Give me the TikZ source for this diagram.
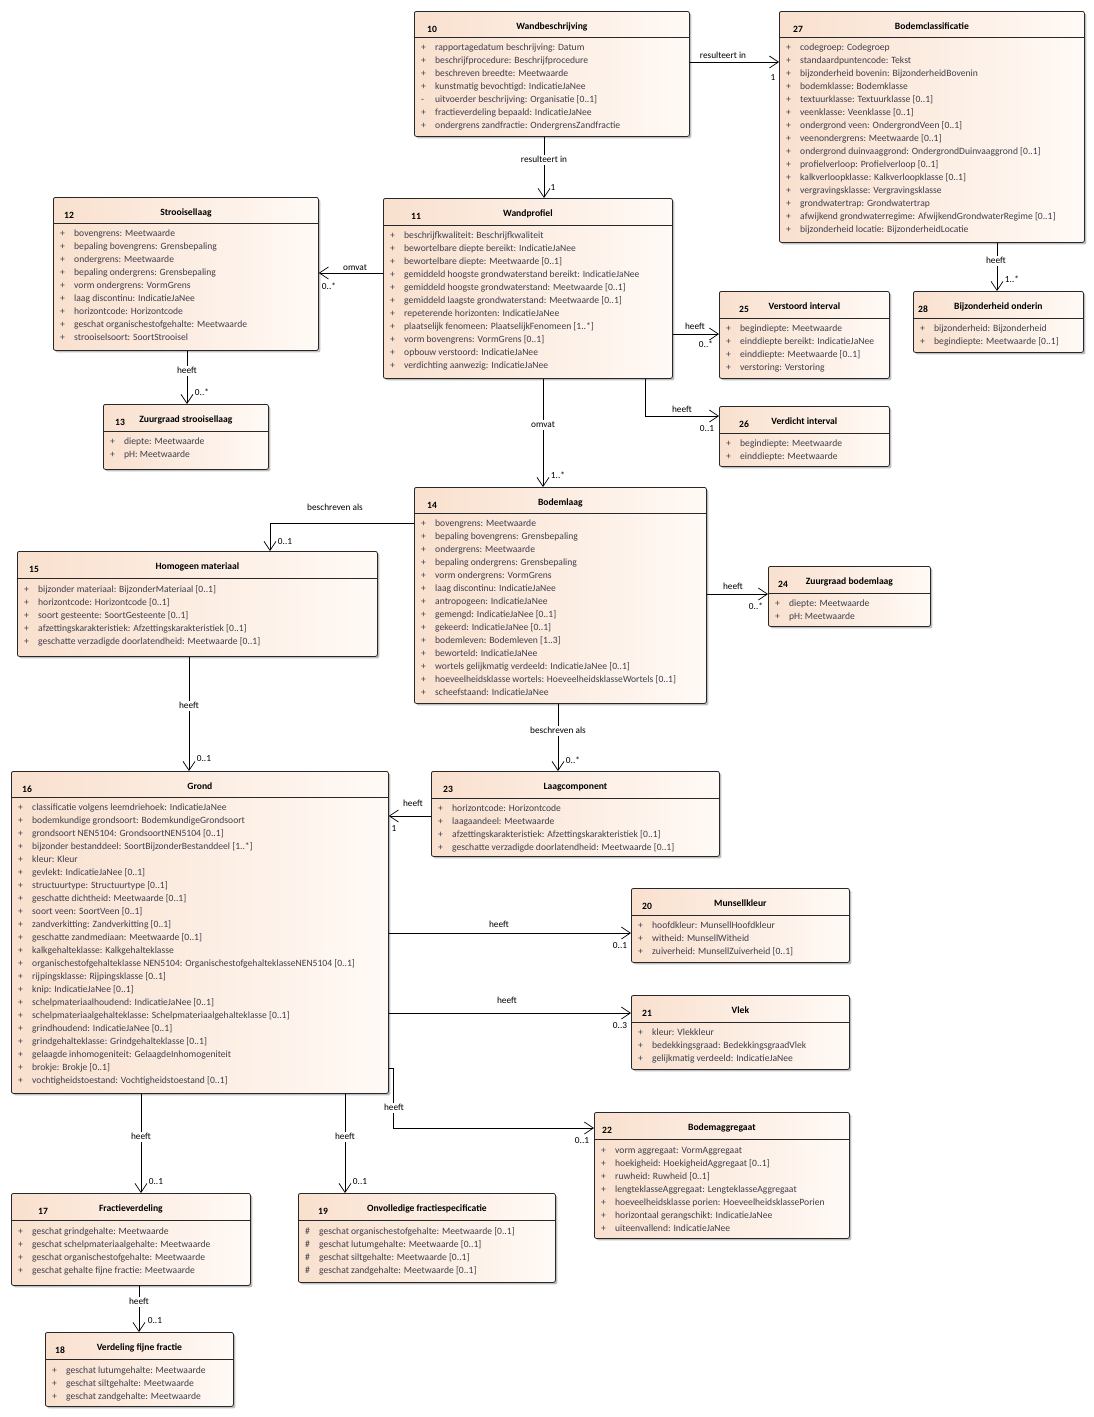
\documentclass[tikz,border=0pt]{standalone}
\usepackage{fontspec}
\setmainfont{Carlito}
\usetikzlibrary{arrows.meta,shadows}
\definecolor{boxL}{RGB}{249,224,206}
\definecolor{boxR}{RGB}{255,250,246}
\definecolor{attrc}{RGB}{62,62,74}
\definecolor{edgec}{RGB}{40,40,40}
\tikzset{
 cls/.style={draw=edgec, line width=0.8pt, rounded corners=2pt, left color=boxL, right color=boxR,
   drop shadow={shadow xshift=2pt, shadow yshift=-2pt, opacity=0.25, fill=black}, anchor=north west, inner sep=0pt},
 attr/.style={font=\fontsize{9.6}{11}\selectfont, text=attrc, anchor=west, inner sep=0pt, text height=6.5pt, text depth=2pt},
 ttl/.style={font=\fontsize{9.6}{11}\selectfont\bfseries, inner sep=0pt, text height=6.5pt, text depth=2pt},
 lbl/.style={font=\fontsize{9.3}{11}\selectfont, inner sep=1pt, text height=6.5pt, text depth=2pt},
 lblw/.style={lbl, fill=white},
 conn/.style={draw=black, line width=0.7pt, -{Straight Barb[length=9pt,width=12pt,line width=0.7pt]}},
 divline/.style={draw=edgec, line width=0.8pt},
}
% name x y w h
\newcommand\clsbox[5]{\node[cls, minimum width=#4pt, minimum height=#5pt] (#1) at (#2,#3) {};}
% name num numdx title dividerY
\newcommand\clshead[5]{%
 \node[ttl, anchor=west] (#1-num) at ([xshift=#3pt, yshift=-19.5pt]#1.north west) {#2};
 \node[ttl] (#1-title) at ([yshift=-16.5pt]#1.north) {#4};
 \draw[divline] (#1.west |- 0,#5) -- (#1.east |- 0,#5);}
% name x firstY list
\newcommand\attrs[4]{%
 \foreach \m/\t [count=\i from 0] in {#4}{
   \node[attr] (#1-m\i) at ({#2+7},{#3+1.5+13*\i}) {\m};
   \node[attr] (#1-a\i) at ({#2+21},{#3+1.5+13*\i}) {\t};
 }}
\begin{document}
\begin{tikzpicture}[x=1pt,y=-1pt]
\fill[white] (0,0) rectangle (1094,1417);
\useasboundingbox (0,0) rectangle (1094,1417);

% 10
\clsbox{n10}{414}{11}{275}{125}
\clshead{n10}{10}{13}{Wandbeschrijving}{37}
\attrs{n10}{414}{47}{+/{rapportagedatum beschrijving: Datum},+/{beschrijfprocedure: Beschrijfprocedure},+/{beschreven breedte: Meetwaarde},+/{kunstmatig bevochtigd: IndicatieJaNee},-/{uitvoerder beschrijving: Organisatie [0..1]},+/{fractieverdeling bepaald: IndicatieJaNee},+/{ondergrens zandfractie: OndergrensZandfractie}}

% 27
\clsbox{n27}{779}{11}{305}{231}
\clshead{n27}{27}{14}{Bodemclassificatie}{37}
\attrs{n27}{779}{47}{+/{codegroep: Codegroep},+/{standaardpuntencode: Tekst},+/{bijzonderheid bovenin: BijzonderheidBovenin},+/{bodemklasse: Bodemklasse},+/{textuurklasse: Textuurklasse [0..1]},+/{veenklasse: Veenklasse [0..1]},+/{ondergrond veen: OndergrondVeen [0..1]},+/{veenondergrens: Meetwaarde [0..1]},+/{ondergrond duinvaaggrond: OndergrondDuinvaaggrond [0..1]},+/{profielverloop: Profielverloop [0..1]},+/{kalkverloopklasse: Kalkverloopklasse [0..1]},+/{vergravingsklasse: Vergravingsklasse},+/{grondwatertrap: Grondwatertrap},+/{afwijkend grondwaterregime: AfwijkendGrondwaterRegime [0..1]},+/{bijzonderheid locatie: BijzonderheidLocatie}}

% 12
\clsbox{n12}{53}{197}{265}{153}
\clshead{n12}{12}{11}{Strooisellaag}{223}
\attrs{n12}{53}{233}{+/{bovengrens: Meetwaarde},+/{bepaling bovengrens: Grensbepaling},+/{ondergrens: Meetwaarde},+/{bepaling ondergrens: Grensbepaling},+/{vorm ondergrens: VormGrens},+/{laag discontinu: IndicatieJaNee},+/{horizontcode: Horizontcode},+/{geschat organischestofgehalte: Meetwaarde},+/{strooiselsoort: SoortStrooisel}}

% 11
\clsbox{n11}{383}{198}{289}{180}
\clshead{n11}{11}{28}{Wandprofiel}{225}
\attrs{n11}{383}{235}{+/{beschrijfkwaliteit: Beschrijfkwaliteit},+/{bewortelbare diepte bereikt: IndicatieJaNee},+/{bewortelbare diepte: Meetwaarde [0..1]},+/{gemiddeld hoogste grondwaterstand bereikt: IndicatieJaNee},+/{gemiddeld hoogste grondwaterstand: Meetwaarde [0..1]},+/{gemiddeld laagste grondwaterstand: Meetwaarde [0..1]},+/{repeterende horizonten: IndicatieJaNee},+/{plaatselijk fenomeen: PlaatselijkFenomeen [1..*]},+/{vorm bovengrens: VormGrens [0..1]},+/{opbouw verstoord: IndicatieJaNee},+/{verdichting aanwezig: IndicatieJaNee}}

% 25
\clsbox{n25}{719}{291}{170}{87}
\clshead{n25}{25}{20}{Verstoord interval}{318}
\attrs{n25}{719}{328}{+/{begindiepte: Meetwaarde},+/{einddiepte bereikt: IndicatieJaNee},+/{einddiepte: Meetwaarde [0..1]},+/{verstoring: Verstoring}}

% 28
\clsbox{n28}{913}{291}{170}{61}
\clshead{n28}{28}{5}{Bijzonderheid onderin}{318}
\attrs{n28}{913}{328}{+/{bijzonderheid: Bijzonderheid},+/{begindiepte: Meetwaarde [0..1]}}

% 26
\clsbox{n26}{719}{406}{170}{60}
\clshead{n26}{26}{20}{Verdicht interval}{433}
\attrs{n26}{719}{443}{+/{begindiepte: Meetwaarde},+/{einddiepte: Meetwaarde}}

% 13
\clsbox{n13}{103}{404}{165}{65}
\clshead{n13}{13}{12}{Zuurgraad strooisellaag}{431}
\attrs{n13}{103}{441}{+/{diepte: Meetwaarde},+/{pH: Meetwaarde}}

% 14
\clsbox{n14}{414}{487}{292}{216}
\clshead{n14}{14}{13}{Bodemlaag}{513}
\attrs{n14}{414}{523}{+/{bovengrens: Meetwaarde},+/{bepaling bovengrens: Grensbepaling},+/{ondergrens: Meetwaarde},+/{bepaling ondergrens: Grensbepaling},+/{vorm ondergrens: VormGrens},+/{laag discontinu: IndicatieJaNee},+/{antropogeen: IndicatieJaNee},+/{gemengd: IndicatieJaNee [0..1]},+/{gekeerd: IndicatieJaNee [0..1]},+/{bodemleven: Bodemleven [1..3]},+/{beworteld: IndicatieJaNee},+/{wortels gelijkmatig verdeeld: IndicatieJaNee [0..1]},+/{hoeveelheidsklasse wortels: HoeveelheidsklasseWortels [0..1]},+/{scheefstaand: IndicatieJaNee}}

% 15
\clsbox{n15}{17}{551}{360}{105}
\clshead{n15}{15}{12}{Homogeen materiaal}{578}
\attrs{n15}{17}{589}{+/{bijzonder materiaal: BijzonderMateriaal [0..1]},+/{horizontcode: Horizontcode [0..1]},+/{soort gesteente: SoortGesteente [0..1]},+/{afzettingskarakteristiek: Afzettingskarakteristiek [0..1]},+/{geschatte verzadigde doorlatendheid: Meetwaarde [0..1]}}

% 24
\clsbox{n24}{768}{566}{162}{60}
\clshead{n24}{24}{10}{Zuurgraad bodemlaag}{593}
\attrs{n24}{768}{603}{+/{diepte: Meetwaarde},+/{pH: Meetwaarde}}

% 16
\clsbox{n16}{11}{771}{377}{322}
\clshead{n16}{16}{11}{Grond}{797}
\attrs{n16}{11}{807}{+/{classificatie volgens leemdriehoek: IndicatieJaNee},+/{bodemkundige grondsoort: BodemkundigeGrondsoort},+/{grondsoort NEN5104: GrondsoortNEN5104 [0..1]},+/{bijzonder bestanddeel: SoortBijzonderBestanddeel [1..*]},+/{kleur: Kleur},+/{gevlekt: IndicatieJaNee [0..1]},+/{structuurtype: Structuurtype [0..1]},+/{geschatte dichtheid: Meetwaarde [0..1]},+/{soort veen: SoortVeen [0..1]},+/{zandverkitting: Zandverkitting [0..1]},+/{geschatte zandmediaan: Meetwaarde [0..1]},+/{kalkgehalteklasse: Kalkgehalteklasse},+/{organischestofgehalteklasse NEN5104: OrganischestofgehalteklasseNEN5104 [0..1]},+/{rijpingsklasse: Rijpingsklasse [0..1]},+/{knip: IndicatieJaNee [0..1]},+/{schelpmateriaalhoudend: IndicatieJaNee [0..1]},+/{schelpmateriaalgehalteklasse: Schelpmateriaalgehalteklasse [0..1]},+/{grindhoudend: IndicatieJaNee [0..1]},+/{grindgehalteklasse: Grindgehalteklasse [0..1]},+/{gelaagde inhomogeniteit: GelaagdeInhomogeniteit},+/{brokje: Brokje [0..1]},+/{vochtigheidstoestand: Vochtigheidstoestand [0..1]}}

% 23
\clsbox{n23}{431}{771}{288}{85}
\clshead{n23}{23}{12}{Laagcomponent}{798}
\attrs{n23}{431}{808}{+/{horizontcode: Horizontcode},+/{laagaandeel: Meetwaarde},+/{afzettingskarakteristiek: Afzettingskarakteristiek [0..1]},+/{geschatte verzadigde doorlatendheid: Meetwaarde [0..1]}}

% 20
\clsbox{n20}{631}{888}{218}{74}
\clshead{n20}{20}{11}{Munsellkleur}{915}
\attrs{n20}{631}{925}{+/{hoofdkleur: MunsellHoofdkleur},+/{witheid: MunsellWitheid},+/{zuiverheid: MunsellZuiverheid [0..1]}}

% 21
\clsbox{n21}{631}{995}{218}{74}
\clshead{n21}{21}{11}{Vlek}{1022}
\attrs{n21}{631}{1032}{+/{kleur: Vlekkleur},+/{bedekkingsgraad: BedekkingsgraadVlek},+/{gelijkmatig verdeeld: IndicatieJaNee}}

% 22
\clsbox{n22}{594}{1112}{255}{126}
\clshead{n22}{22}{8}{Bodemaggregaat}{1139}
\attrs{n22}{594}{1150}{+/{vorm aggregaat: VormAggregaat},+/{hoekigheid: HoekigheidAggregaat [0..1]},+/{ruwheid: Ruwheid [0..1]},+/{lengteklasseAggregaat: LengteklasseAggregaat},+/{hoeveelheidsklasse porien: HoeveelheidsklassePorien},+/{horizontaal gerangschikt: IndicatieJaNee},+/{uiteenvallend: IndicatieJaNee}}

% 17
\clsbox{n17}{11}{1193}{239}{92}
\clshead{n17}{17}{27}{Fractieverdeling}{1220}
\attrs{n17}{11}{1231}{+/{geschat grindgehalte: Meetwaarde},+/{geschat schelpmateriaalgehalte: Meetwaarde},+/{geschat organischestofgehalte: Meetwaarde},+/{geschat gehalte fijne fractie: Meetwaarde}}

% 19
\clsbox{n19}{298}{1193}{257}{89}
\clshead{n19}{19}{20}{Onvolledige fractiespecificatie}{1220}
\attrs{n19}{298}{1231}{\#/{geschat organischestofgehalte: Meetwaarde [0..1]},\#/{geschat lutumgehalte: Meetwaarde [0..1]},\#/{geschat siltgehalte: Meetwaarde [0..1]},\#/{geschat zandgehalte: Meetwaarde [0..1]}}

% 18
\clsbox{n18}{45}{1332}{188}{74}
\clshead{n18}{18}{10}{Verdeling fijne fractie}{1359}
\attrs{n18}{45}{1370}{+/{geschat lutumgehalte: Meetwaarde},+/{geschat siltgehalte: Meetwaarde},+/{geschat zandgehalte: Meetwaarde}}

% connectors
\draw[conn] (n10.east |- 0,62) -- (n27.west |- 0,62);
\draw[conn] (n10.south -| 544,0) -- (n11.north -| 544,0);
\draw[conn] (n11.west |- 0,273) -- (n12.east |- 0,273);
\draw[conn] (n12.south -| 187,0) -- (n13.north -| 187,0);
\draw[conn] (n11.east |- 0,334) -- (n25.west |- 0,334);
\draw[conn] (n11.south -| 645,0) |- (n26.west |- 0,416);
\draw[conn] (n27.south -| 997,0) -- (n28.north -| 997,0);
\draw[conn] (n11.south -| 543,0) -- (n14.north -| 543,0);
\draw[conn] (n14.west |- 0,523) -| (n15.north -| 270,0);
\draw[conn] (n14.east |- 0,594) -- (n24.west |- 0,594);
\draw[conn] (n15.south -| 189,0) -- (n16.north -| 189,0);
\draw[conn] (n14.south -| 558,0) -- (n23.north -| 558,0);
\draw[conn] (n23.west |- 0,816) -- (n16.east |- 0,816);
\draw[conn] (n16.east |- 0,933) -- (n20.west |- 0,933);
\draw[conn] (n16.east |- 0,1013) -- (n21.west |- 0,1013);
\draw[conn] (n16.east |- 0,1068) -- ++(5,0) |- (n22.west |- 0,1128);
\draw[conn] (n16.south -| 141,0) -- (n17.north -| 141,0);
\draw[conn] (n16.south -| 345,0) -- (n19.north -| 345,0);
\draw[conn] (n17.south -| 139,0) -- (n18.north -| 139,0);

% labels
\node[lbl] (l1) at (723,56) {resulteert in};
\node[lbl] (m1) at (773,78) {1};
\node[lblw] (l2) at (544,160) {resulteert in};
\node[lbl] (m2) at (553,188) {1};
\node[lbl] (l3) at (355,268) {omvat};
\node[lbl] (m3) at (329,287) {0..*};
\node[lblw] (l4) at (187,371) {heeft};
\node[lbl] (m4) at (202,393) {0..*};
\node[lbl] (l5) at (695,327) {heeft};
\node[lbl] (m5) at (706,345) {0..*};
\node[lbl] (l6) at (682,410) {heeft};
\node[lbl] (m6) at (707,429) {0..1};
\node[lblw] (l7) at (996,261) {heeft};
\node[lbl] (m7) at (1012,280) {1..*};
\node[lblw] (l8) at (543,425) {omvat};
\node[lbl] (m8) at (558,476) {1..*};
\node[lbl] (l9) at (335,508) {beschreven als};
\node[lbl] (m9) at (285,542) {0..1};
\node[lbl] (l10) at (733,587) {heeft};
\node[lbl] (m10) at (756,607) {0..*};
\node[lblw] (l11) at (189,706) {heeft};
\node[lbl] (m11) at (204,759) {0..1};
\node[lblw] (l12) at (558,731) {beschreven als};
\node[lbl] (m12) at (573,761) {0..*};
\node[lbl] (l13) at (413,804) {heeft};
\node[lbl] (m13) at (394,829) {1};
\node[lbl] (l14) at (499,925) {heeft};
\node[lbl] (m14) at (620,946) {0..1};
\node[lbl] (l15) at (507,1001) {heeft};
\node[lbl] (m15) at (620,1026) {0..3};
\node[lblw] (l16) at (394,1108) {heeft};
\node[lbl] (m16) at (582,1141) {0..1};
\node[lblw] (l17) at (141,1137) {heeft};
\node[lbl] (m17) at (156,1182) {0..1};
\node[lblw] (l18) at (345,1137) {heeft};
\node[lbl] (m18) at (360,1182) {0..1};
\node[lblw] (l19) at (139,1302) {heeft};
\node[lbl] (m19) at (155,1321) {0..1};
\end{tikzpicture}
\end{document}
